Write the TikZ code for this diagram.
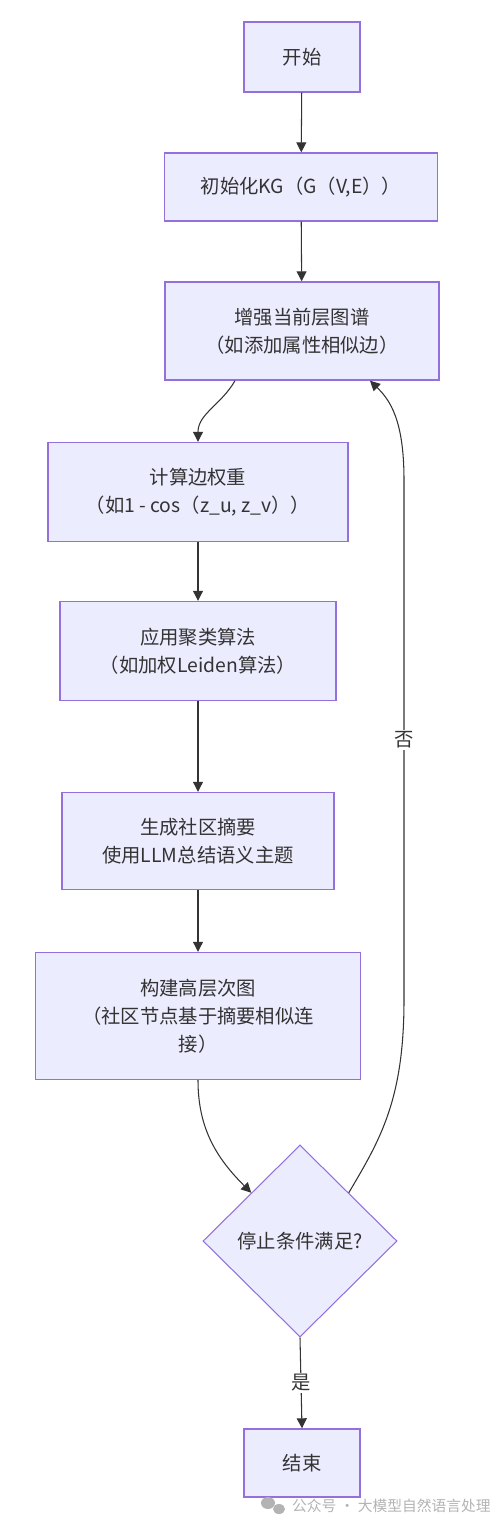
\documentclass[tikz,border=0pt]{standalone}
\usepackage{fontspec}
\setmainfont{Noto Sans CJK SC}
\usepackage{tikz}
\usetikzlibrary{arrows.meta,positioning,shapes.geometric}
\definecolor{boxfill}{HTML}{ECECFF}
\definecolor{boxline}{HTML}{9370DB}
\definecolor{ink}{HTML}{333333}
\definecolor{wmgrey}{HTML}{B3B3B3}

\begin{document}
\begin{tikzpicture}[x=0.2mm,y=-0.2mm, every node/.style={font=\fontsize{11}{16}\selectfont,text=ink}, stage/.style={draw=boxline,fill=boxfill,line width=0.8pt,align=center,inner sep=2pt}, test/.style={diamond,draw=boxline,fill=boxfill,line width=0.6pt,aspect=1,inner sep=0pt,minimum width=38.8mm,minimum height=38.4mm}, arr/.style={-{Triangle[length=2mm,width=2mm]},draw=ink,line width=0.6pt}, lbl/.style={fill=white,inner sep=1pt}]
\useasboundingbox (0,0) rectangle (500,1526);
\node[stage,minimum width=23.2mm,minimum height=14mm] (s1) at (302,57) {开始};
\node[stage,minimum width=54.6mm,minimum height=13.6mm] (s2) at (301,187) {初始化KG（G（V,E））};
\node[stage,minimum width=54.8mm,minimum height=19.6mm] (s3) at (302,331) {增强当前层图谱\\（如添加属性相似边）};
\node[stage,minimum width=60mm,minimum height=19.8mm] (s4) at (198,492) {计算边权重\\（如1 - cos（z\_u, z\_v））};
\node[stage,minimum width=55.2mm,minimum height=19.8mm] (s5) at (198,651) {应用聚类算法\\（如加权Leiden算法）};
\node[stage,minimum width=54.4mm,minimum height=19.4mm] (s6) at (198,841) {生成社区摘要\\使用LLM总结语义主题};
\node[stage,minimum width=65mm,minimum height=25.4mm] (s7) at (198,1016) {构建高层次图\\（社区节点基于摘要相似连\\接）};
\node[test] (dec) at (300,1241) {停止条件满足?};
\node[stage,minimum width=23.2mm,minimum height=13.6mm] (s8) at (302,1463) {结束};
\draw[arr] (s1)--(s2); \draw[arr] (s2)--(s3); \draw[arr] (s4)--(s5); \draw[arr] (s5)--(s6); \draw[arr] (s6)--(s7);
\draw[arr] ([xshift=-13.4mm]s3.south) to[out=-120,in=90] (s4.north);
\draw[arr] (s7.south) to[out=-90,in=135] (dec.north west);
\draw[arr] (dec.south) -- node[lbl]{是} (s8.north);
\draw[arr] (dec.north east) .. controls (380,1140) and (404,1100) .. (404,1000) -- node[lbl]{否} (404,480) .. controls (404,420) and (390,400) .. ([xshift=13.6mm]s3.south);
\fill[wmgrey] (268,1503) ellipse (7 and 6);
\fill[wmgrey] (279,1509) ellipse (6 and 5);
\node[font=\fontsize{8.4}{10}\selectfont,text=wmgrey,anchor=west] (wm) at (286,1506) {公众号 · 大模型自然语言处理};
\end{tikzpicture}
\end{document}
